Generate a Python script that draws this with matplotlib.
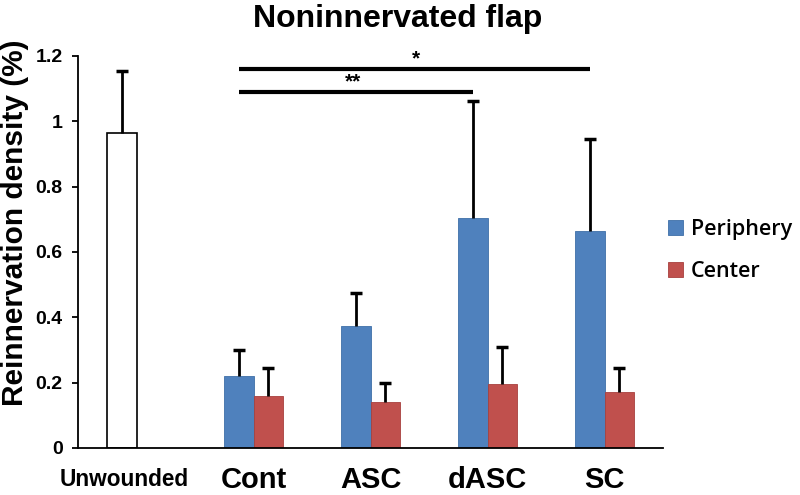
import numpy as np
import matplotlib.pyplot as plt

plt.rcParams['font.family'] = ['Liberation Sans', 'DejaVu Sans']

groups = ['Cont', 'ASC', 'dASC', 'SC']
periphery = [0.22, 0.374, 0.704, 0.665]
periphery_err = [0.08, 0.099, 0.358, 0.28]
center = [0.16, 0.142, 0.195, 0.172]
center_err = [0.085, 0.058, 0.113, 0.072]
unwounded = 0.964
unwounded_err = 0.191

blue = '#4F81BD'
red = '#C0504D'
w = 0.25

fig = plt.figure(figsize=(8, 4.95), dpi=100)
ax = fig.add_axes([0.0975, 0.095, 0.7313, 0.792])

x = np.arange(1, len(groups) + 1)


def up_err(xs, ys, errs):
    # only the upper half of the error bar, as in the original
    xs, ys, errs = np.atleast_1d(xs), np.atleast_1d(ys), np.atleast_1d(errs)
    ax.vlines(xs, ys, ys + errs, color='black', lw=2, zorder=3)
    ax.plot(xs, ys + errs, ls='none', marker='_', ms=8, mew=2.5, color='black', zorder=3)


ax.bar(-w / 2, unwounded, w, color='white', edgecolor='black', linewidth=1.2)
up_err(-w / 2, unwounded, unwounded_err)
ax.bar(x - w / 2, periphery, w, color=blue, edgecolor='#3E6FA8', linewidth=0.6, label='Periphery')
up_err(x - w / 2, periphery, periphery_err)
ax.bar(x + w / 2, center, w, color=red, edgecolor='#A8403D', linewidth=0.6, label='Center')
up_err(x + w / 2, center, center_err)

# significance bars
ax.plot([1 - w / 2, 4 - w / 2], [1.16, 1.16], color='black', lw=3, solid_capstyle='butt')
ax.plot([1 - w / 2, 3 - w / 2], [1.09, 1.09], color='black', lw=3, solid_capstyle='butt')
ax.text(2.385, 1.163, '*', ha='center', va='bottom', fontsize=15, fontweight='bold')
ax.text(1.85, 1.093, '**', ha='center', va='bottom', fontsize=15, fontweight='bold')

ax.set_xlim(-0.5, 4.5)
ax.set_ylim(0, 1.2)
ax.set_yticks([0, 0.2, 0.4, 0.6, 0.8, 1.0, 1.2])
ax.set_yticklabels(['0', '0.2', '0.4', '0.6', '0.8', '1', '1.2'], fontsize=14, fontweight='bold')
ax.set_xticks([])
for s in ['top', 'right']:
    ax.spines[s].set_visible(False)
ax.spines['left'].set_linewidth(1.3)
ax.spines['bottom'].set_linewidth(1.3)
ax.tick_params(axis='y', length=4.5, width=1.3, direction='out', pad=6.5)

ax.text(-0.105, -0.098, 'Unwounded', ha='center', va='center', fontsize=16.3, fontweight='bold')
for xi, g in zip(x, groups):
    ax.text(xi, -0.098, g, ha='center', va='center', fontsize=21, fontweight='bold')

ax.set_ylabel('Reinnervation density (%)', fontsize=21.5, fontweight='bold')
ax.yaxis.set_label_coords(-0.084, 0.575)
fig.text(0.497, 0.962, 'Noninnervated flap', ha='center', va='center', fontsize=23, fontweight='bold')

fig.legend(loc='center left', bbox_to_anchor=(0.835, 0.494), frameon=False,
           borderpad=0, borderaxespad=0,
           prop={'family': 'Open Sans', 'size': 15.5, 'weight': 'semibold'},
           handlelength=0.68, handleheight=0.68, handletextpad=0.4, labelspacing=0.95)

fig.savefig('out.png', dpi=100)
